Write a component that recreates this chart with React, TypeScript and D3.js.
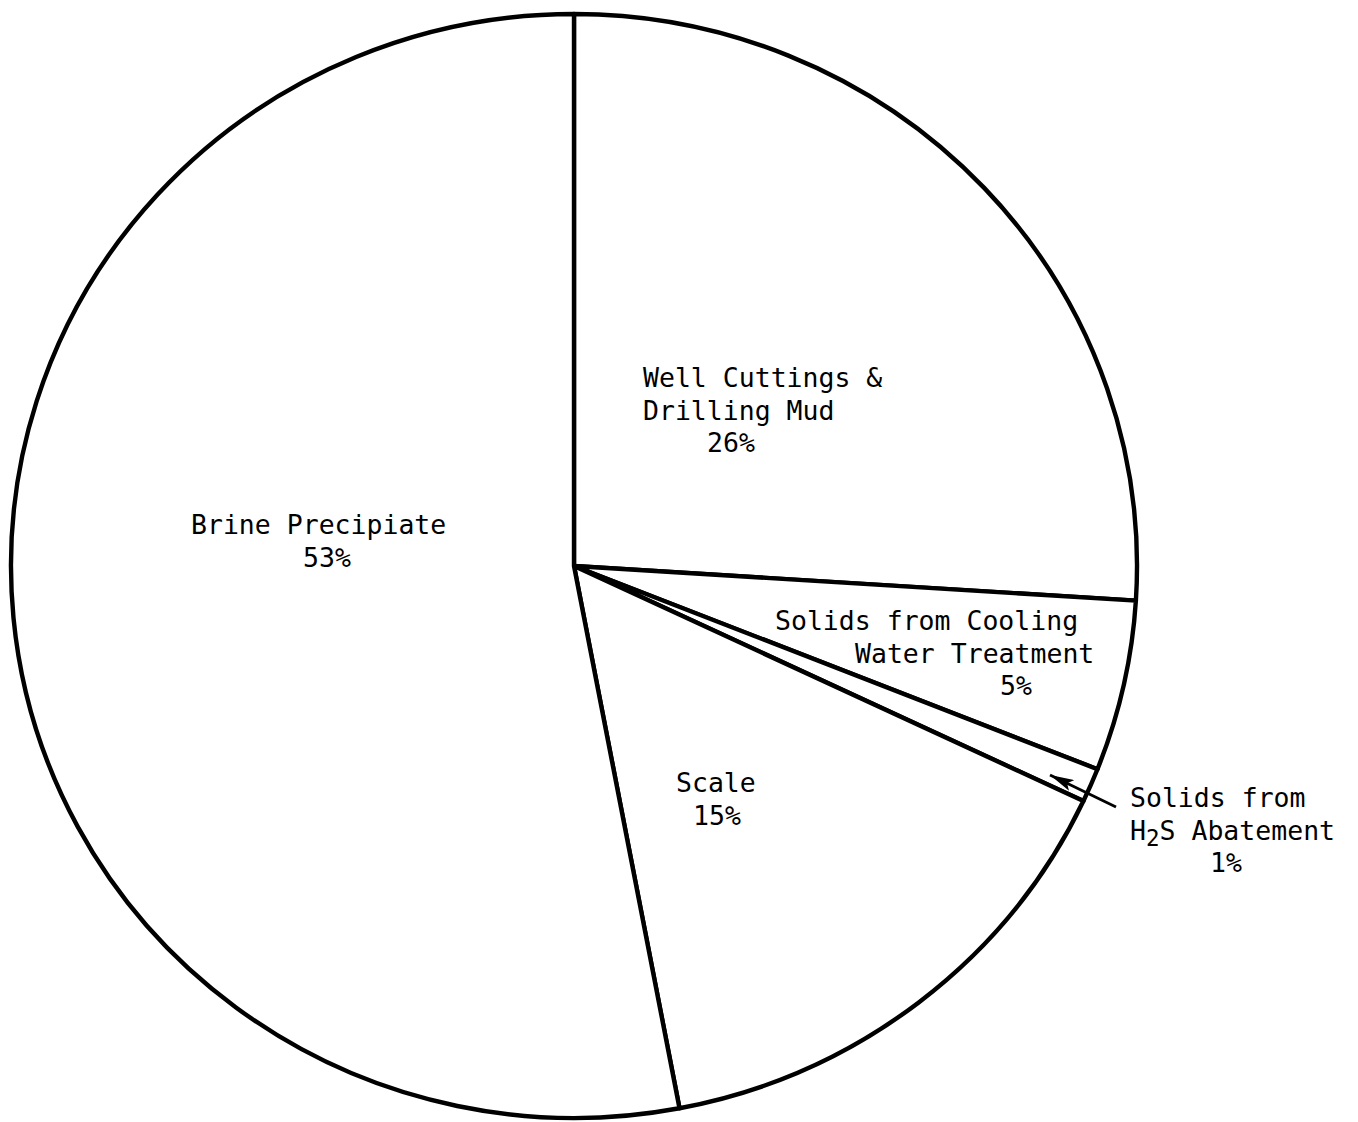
import React from "react";
import * as d3 from "d3";

// ---- data ----
const categories = [
  "Well Cuttings & Drilling Mud",
  "Solids from Cooling Water Treatment",
  "Solids from H2S Abatement",
  "Scale",
  "Brine Precipiate",
];
const values = [26, 5, 1, 15, 53];
const labelLines: string[][] = [
  ["Well Cuttings &", "Drilling Mud"],
  ["Solids from Cooling", "Water Treatment"],
  ["Solids from", "H2S Abatement"],
  ["Scale"],
  ["Brine Precipiate"],
];

// ---- layout (positions only) ----
const W = 1358;
const H = 1122;
const CX = 574;
const CY = 566;
const RX = 563;
const RY = 552;
const FONT = "'DejaVu Sans Mono', 'Liberation Mono', monospace";
const FS = 26.5;
const LH = 32.5;
// per-category: x start for each line (including the % line) and first baseline
const labelX: number[][] = [
  [643, 643, 707],
  [775, 855, 1000],
  [1130, 1130, 1210],
  [676, 693],
  [191, 303],
];
const labelY = [387, 630, 807, 792, 534];

function renderLine(s: string) {
  if (s.includes("H2S")) {
    const [a, b] = s.split("H2S");
    return (
      <>
        {a}H
        <tspan dy={6} fontSize={FS * 0.85}>2</tspan>
        <tspan dy={-6}>S{b}</tspan>
      </>
    );
  }
  return s;
}

export default function App() {
  const pie = d3
    .pie<number>()
    .sort(null)
    .value((d) => d)
    .startAngle(0)
    .endAngle(2 * Math.PI);
  const arcs = pie(values);
  const arc = d3.arc<d3.PieArcDatum<number>>().innerRadius(0).outerRadius(RX);

  return (
    <svg
      width={W}
      height={H}
      viewBox={`0 0 ${W} ${H}`}
      style={{ position: "absolute", left: 0, top: 0, display: "block", background: "#fff" }}
    >
      <defs>
        <marker
          id="ah"
          viewBox="0 0 24 12"
          refX={24}
          refY={6}
          markerWidth={24}
          markerHeight={12}
          markerUnits="userSpaceOnUse"
          orient="auto"
        >
          <path d="M0,0 L24,6 L0,12 L5,6 Z" fill="#000" />
        </marker>
      </defs>
      <g transform={`translate(${CX},${CY}) scale(1,${RY / RX})`}>
        {arcs.map((a, i) => (
          <path
            key={categories[i]}
            d={arc(a) || ""}
            fill="#fff"
            stroke="#000"
            strokeWidth={4.4}
            strokeLinejoin="round"
            vectorEffect="non-scaling-stroke"
          />
        ))}
      </g>
      {/* arrow for the small slice */}
      <line
        x1={1116}
        y1={807}
        x2={1050}
        y2={775}
        stroke="#000"
        strokeWidth={2.8}
        markerEnd="url(#ah)"
      />
      <g fontFamily={FONT} fontSize={FS} fill="#000">
        {categories.map((c, i) => {
          const lines = [...labelLines[i], `${values[i]}%`];
          return (
            <g key={c}>
              {lines.map((ln, j) => (
                <text key={j} x={labelX[i][j]} y={labelY[i] + j * LH}>
                  {renderLine(ln)}
                </text>
              ))}
            </g>
          );
        })}
      </g>
    </svg>
  );
}
